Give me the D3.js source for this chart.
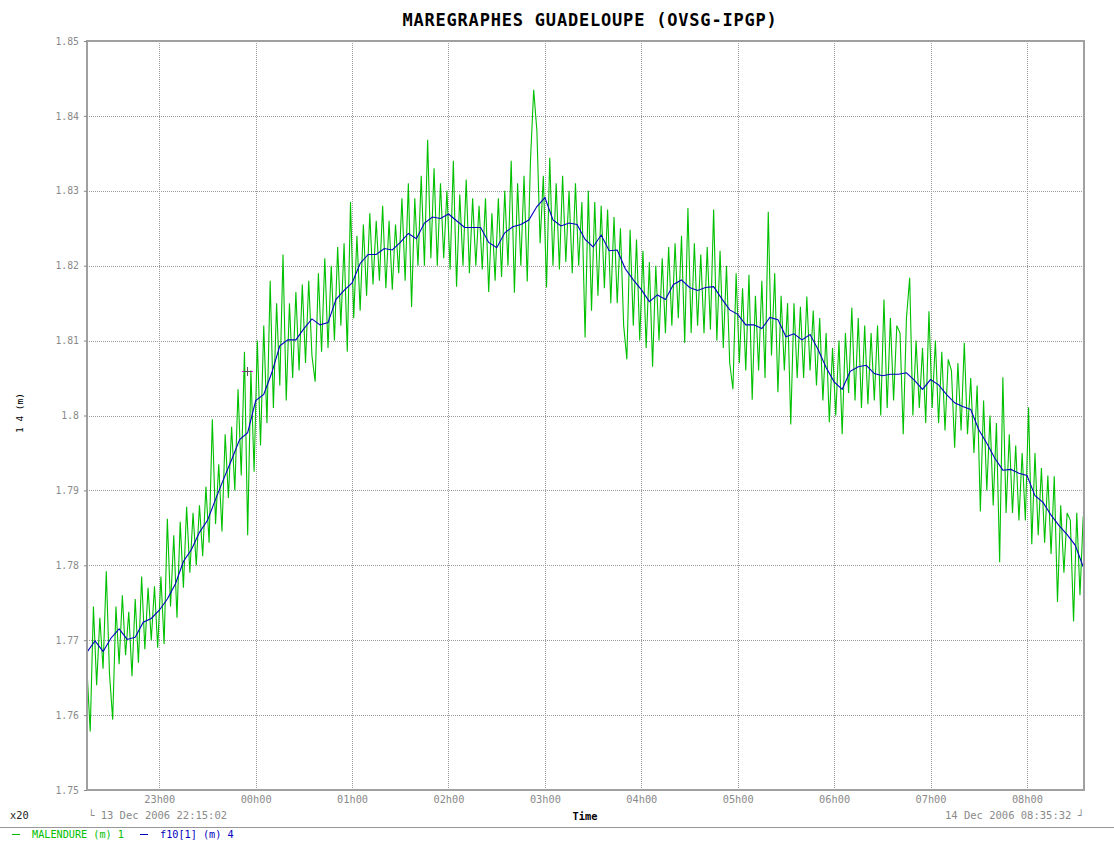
<!DOCTYPE html>
<html>
<head>
<meta charset="utf-8">
<script src="https://cdn.jsdelivr.net/npm/d3@7"></script>
<style>
  body { margin: 0; background: #fff; }
  text { font-family: "DejaVu Sans Mono", monospace; }
</style>
</head>
<body>
<div id="graph"></div>
<script>
// time window of the record (UTC)
var startTime = Date.UTC(2006, 11, 13, 22, 15, 2);
var endTime = Date.UTC(2006, 11, 14, 8, 35, 32);

// MALENDURE raw gauge, one sample every 2 minutes
var malendureStep = 2;
var malendure = [
  1.7660, 1.7578, 1.7745, 1.7640, 1.7730, 1.7662, 1.7792, 1.7655, 1.7594, 1.7745,
  1.7668, 1.7760, 1.7680, 1.7738, 1.7652, 1.7755, 1.7670, 1.7785, 1.7688, 1.7770,
  1.7700, 1.7772, 1.7690, 1.7785, 1.7695, 1.7862, 1.7745, 1.7840, 1.7730, 1.7858,
  1.7770, 1.7878, 1.7790, 1.7870, 1.7800, 1.7880, 1.7812, 1.7905, 1.7830, 1.7995,
  1.7855, 1.7935, 1.7845, 1.7975, 1.7890, 1.7985, 1.7900, 1.8035, 1.7920, 1.8085,
  1.7840, 1.8060, 1.7925, 1.8100, 1.7960, 1.8120, 1.7990, 1.8180, 1.8010, 1.8150,
  1.8040, 1.8215, 1.8020, 1.8150, 1.8050, 1.8165, 1.8060, 1.8175, 1.8070, 1.8180,
  1.8080, 1.8045, 1.8190, 1.8085, 1.8210, 1.8090, 1.8200, 1.8100, 1.8225, 1.8120,
  1.8230, 1.8085, 1.8285, 1.8130, 1.8240, 1.8140, 1.8255, 1.8160, 1.8270, 1.8175,
  1.8260, 1.8180, 1.8280, 1.8170, 1.8260, 1.8168, 1.8255, 1.8190, 1.8290, 1.8180,
  1.8310, 1.8145, 1.8290, 1.8200, 1.8320, 1.8200, 1.8368, 1.8210, 1.8330, 1.8200,
  1.8310, 1.8210, 1.8300, 1.8195, 1.8340, 1.8172, 1.8295, 1.8200, 1.8315, 1.8190,
  1.8290, 1.8200, 1.8280, 1.8195, 1.8290, 1.8165, 1.8270, 1.8180, 1.8290, 1.8185,
  1.8300, 1.8200, 1.8340, 1.8164, 1.8310, 1.8200, 1.8320, 1.8179, 1.8340, 1.8435,
  1.8380, 1.8230, 1.8320, 1.8171, 1.8344, 1.8200, 1.8310, 1.8195, 1.8320, 1.8205,
  1.8300, 1.8190, 1.8310, 1.8200, 1.8285, 1.8104, 1.8300, 1.8140, 1.8285, 1.8160,
  1.8280, 1.8170, 1.8275, 1.8150, 1.8265, 1.8150, 1.8250, 1.8120, 1.8075, 1.8248,
  1.8120, 1.8235, 1.8100, 1.8220, 1.8090, 1.8205, 1.8065, 1.8200, 1.8100, 1.8210,
  1.8110, 1.8225, 1.8120, 1.8230, 1.8130, 1.8240, 1.8097, 1.8277, 1.8110, 1.8230,
  1.8120, 1.8215, 1.8110, 1.8225, 1.8115, 1.8275, 1.8100, 1.8220, 1.8090, 1.8200,
  1.8070, 1.8035, 1.8190, 1.8070, 1.8170, 1.8060, 1.8188, 1.8021, 1.8160, 1.8060,
  1.8180, 1.8050, 1.8272, 1.8080, 1.8190, 1.8031, 1.8160, 1.8060, 1.8150, 1.7988,
  1.8150, 1.8050, 1.8145, 1.8050, 1.8159, 1.8060, 1.8140, 1.8040, 1.8130, 1.8020,
  1.8110, 1.7991, 1.8090, 1.8000, 1.8100, 1.7975, 1.8110, 1.8030, 1.8144, 1.8020,
  1.8130, 1.8010, 1.8120, 1.8015, 1.8110, 1.8020, 1.8120, 1.8000, 1.8155, 1.8010,
  1.8130, 1.8020, 1.8120, 1.8110, 1.7975, 1.8130, 1.8184, 1.8000, 1.8100, 1.8010,
  1.8090, 1.7990, 1.8139, 1.8010, 1.8100, 1.7990, 1.8085, 1.7980, 1.8075, 1.8060,
  1.7957, 1.8070, 1.7980, 1.8097, 1.7975, 1.8050, 1.7950, 1.8040, 1.7872, 1.8020,
  1.7900, 1.8000, 1.7880, 1.7990, 1.7804, 1.8051, 1.7870, 1.7975, 1.7870, 1.7960,
  1.7860, 1.7950, 1.7860, 1.8011, 1.7828, 1.7950, 1.7840, 1.7930, 1.7830, 1.7920,
  1.7815, 1.7919, 1.7751, 1.7880, 1.7790, 1.7870, 1.7860, 1.7725, 1.7870, 1.7760,
  1.7865
];

// f10[1] filtered series, one sample every 5 minutes
var f10Step = 5;
var f10 = [
  1.7684, 1.7699, 1.7685, 1.7703, 1.7715, 1.7701, 1.7704, 1.7724, 1.7729, 1.7740,
  1.7755, 1.7775, 1.7805, 1.7821, 1.7844, 1.7860, 1.7888, 1.7915, 1.7941, 1.7968,
  1.7977, 1.8020, 1.8028, 1.8057, 1.8093, 1.8101, 1.8101, 1.8116, 1.8129, 1.8121,
  1.8124, 1.8155, 1.8167, 1.8177, 1.8203, 1.8215, 1.8215, 1.8223, 1.8221, 1.8231,
  1.8243, 1.8236, 1.8257, 1.8265, 1.8263, 1.8269, 1.8260, 1.8251, 1.8251, 1.8251,
  1.8231, 1.8224, 1.8244, 1.8252, 1.8255, 1.8261, 1.8279, 1.8291, 1.8261, 1.8253,
  1.8257, 1.8255, 1.8235, 1.8225, 1.8241, 1.8220, 1.8221, 1.8196, 1.8181, 1.8168,
  1.8152, 1.8161, 1.8155, 1.8175, 1.8181, 1.8171, 1.8167, 1.8171, 1.8172, 1.8156,
  1.8141, 1.8135, 1.8121, 1.8121, 1.8116, 1.8131, 1.8128, 1.8105, 1.8109, 1.8101,
  1.8108, 1.8088, 1.8064, 1.8045, 1.8035, 1.8059, 1.8065, 1.8067, 1.8056, 1.8053,
  1.8055, 1.8055, 1.8057, 1.8047, 1.8035, 1.8048, 1.8041, 1.8028, 1.8017, 1.8012,
  1.8008, 1.7981, 1.7963, 1.7943, 1.7927, 1.7928, 1.7923, 1.7920, 1.7893, 1.7884,
  1.7867, 1.7853, 1.7841, 1.7827, 1.7798
];

var yDomain = [1.75, 1.85];
var cursorPoint = { minutes: 99.6, value: 1.8060 };

var W = 1114, H = 841;
var margin = { left: 87, right: 1084, top: 41, bottom: 790 };

var svg = d3.select("#graph").append("svg")
    .attr("width", W)
    .attr("height", H);

svg.append("rect").attr("width", W).attr("height", H).style("fill", "#fff");

var x = d3.scaleUtc().domain([startTime, endTime]).range([margin.left, margin.right]);
var y = d3.scaleLinear().domain(yDomain).range([margin.bottom, margin.top]);

function series(values, step) {
  return values.map(function(v, i) {
    return { t: new Date(startTime + i * step * 60000), v: v };
  });
}

// grid
var hours = x.ticks(d3.utcHour.every(1));
var yTicks = y.ticks(10);

svg.append("g").selectAll("line")
    .data(hours)
    .enter().append("line")
    .attr("x1", function(d) { return Math.round(x(d)) + 0.5; })
    .attr("x2", function(d) { return Math.round(x(d)) + 0.5; })
    .attr("y1", margin.top).attr("y2", margin.bottom)
    .style("stroke", "#9a9a9a")
    .style("stroke-dasharray", "1,1");

svg.append("g").selectAll("line")
    .data(yTicks)
    .enter().append("line")
    .attr("x1", margin.left).attr("x2", margin.right)
    .attr("y1", function(d) { return Math.round(y(d)) + 0.5; })
    .attr("y2", function(d) { return Math.round(y(d)) + 0.5; })
    .style("stroke", "#9a9a9a")
    .style("stroke-dasharray", "1,1");

// lines
var line = d3.line()
    .x(function(d) { return x(d.t); })
    .y(function(d) { return y(d.v); });

var plot = svg.append("g");
plot.append("path")
    .datum(series(malendure, malendureStep))
    .attr("d", line)
    .style("fill", "none")
    .style("stroke", "#00c000")
    .style("stroke-width", 1.1);

plot.append("path")
    .datum(series(f10, f10Step))
    .attr("d", line)
    .style("fill", "none")
    .style("stroke", "#0000c0")
    .style("stroke-width", 1.1);

// cursor cross
var cx = x(startTime + cursorPoint.minutes * 60000), cy = y(cursorPoint.value);
var cur = svg.append("g").attr("transform", "translate(" + Math.round(cx) + "," + Math.round(cy) + ")");
cur.append("line").attr("x1", -4).attr("x2", 4).attr("y1", 0.5).attr("y2", 0.5).style("stroke", "#555");
cur.append("line").attr("x1", 0.5).attr("x2", 0.5).attr("y1", -4).attr("y2", 5).style("stroke", "#555");
cur.append("rect").attr("x", -5).attr("y", 0).attr("width", 2).attr("height", 1).style("fill", "#e000e0");
cur.append("rect").attr("x", 4).attr("y", 0).attr("width", 2).attr("height", 1).style("fill", "#e000e0");

// frame
svg.append("rect")
    .attr("x", margin.left).attr("y", margin.top)
    .attr("width", margin.right - margin.left).attr("height", margin.bottom - margin.top)
    .style("fill", "none")
    .style("stroke", "#a0a0a0")
    .style("stroke-width", 2);

// y axis
var yAxis = svg.append("g")
    .attr("transform", "translate(" + margin.left + ",0)")
    .call(d3.axisLeft(y).tickValues(yTicks).tickSize(3).tickPadding(5)
      .tickFormat(d3.format(".2~f")));
yAxis.select(".domain").remove();
yAxis.selectAll("line").style("stroke", "#888");
yAxis.selectAll("text").style("font-family", "DejaVu Sans Mono").style("font-size", "9.8px").style("fill", "#8a8a8a");

// x axis
var xAxis = svg.append("g")
    .attr("transform", "translate(0," + margin.bottom + ")")
    .call(d3.axisBottom(x).tickValues(hours).tickSize(0).tickPadding(6)
      .tickFormat(d3.utcFormat("%Hh%M")));
xAxis.select(".domain").remove();
xAxis.selectAll("text").style("font-family", "DejaVu Sans Mono").style("font-size", "10.3px").style("fill", "#8a8a8a");

// title
svg.append("text")
    .attr("x", 590).attr("y", 26)
    .attr("text-anchor", "middle")
    .style("font-size", "17px")
    .style("font-weight", "bold")
    .style("letter-spacing", "0.8px")
    .style("fill", "#000")
    .text("MAREGRAPHES GUADELOUPE (OVSG-IPGP)");

// y label
svg.append("text")
    .attr("transform", "translate(23,413) rotate(-90)")
    .attr("text-anchor", "middle")
    .style("font-size", "9.5px")
    .style("fill", "#000")
    .text("1 4 (m)");

// bottom texts
var fmt = d3.utcFormat("%d %b %Y %H:%M:%S");
svg.append("text").attr("x", 10).attr("y", 819)
    .style("font-size", "10.3px").style("fill", "#222").text("x20");
svg.append("text").attr("x", 88).attr("y", 819)
    .style("font-size", "10.5px").style("fill", "#8a8a8a")
    .text("\u2514 " + fmt(new Date(startTime)));
svg.append("text").attr("x", 1084).attr("y", 819)
    .attr("text-anchor", "end")
    .style("font-size", "10.5px").style("fill", "#8a8a8a")
    .text(fmt(new Date(endTime)) + " \u2518");
svg.append("text").attr("x", 585).attr("y", 820)
    .attr("text-anchor", "middle")
    .style("font-size", "10.3px").style("font-weight", "bold").style("fill", "#000")
    .text("Time");

svg.append("line")
    .attr("x1", 0).attr("x2", W).attr("y1", 827.5).attr("y2", 827.5)
    .style("stroke", "#999");

// legend
var legend = [
  { x: 12, label: "MALENDURE (m) 1", color: "#00c000" },
  { x: 140, label: "f10[1] (m) 4", color: "#0000c0" }
];
var lg = svg.selectAll(".leg").data(legend).enter().append("g").attr("class", "leg");
lg.append("line")
    .attr("x1", function(d) { return d.x; })
    .attr("x2", function(d) { return d.x + 8; })
    .attr("y1", 834.5).attr("y2", 834.5)
    .style("stroke", function(d) { return d.color; });
lg.append("text")
    .attr("x", function(d) { return d.x + 20; })
    .attr("y", 838)
    .style("font-size", "10.2px")
    .style("fill", function(d) { return d.color; })
    .text(function(d) { return d.label; });
</script>
</body>
</html>
